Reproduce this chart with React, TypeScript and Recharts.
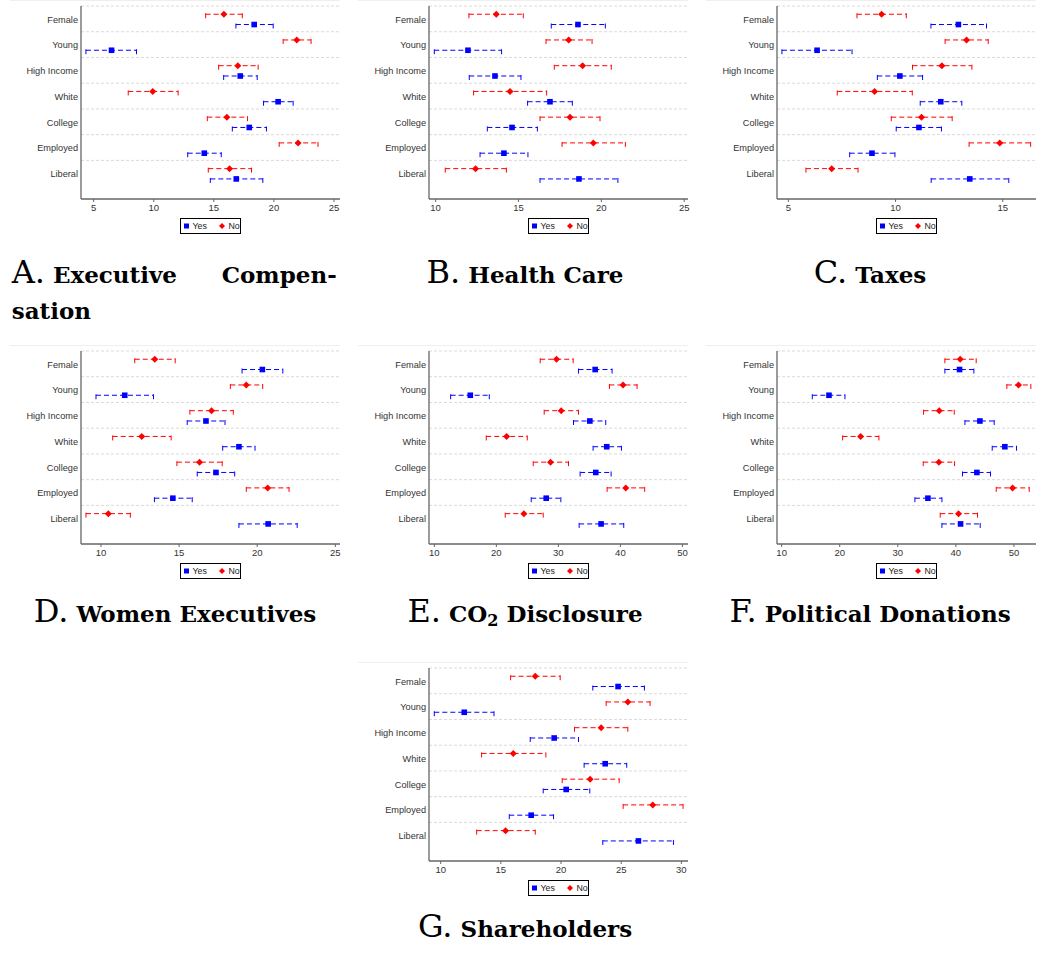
import React from 'react';
import { ScatterChart, Scatter, XAxis, YAxis, ErrorBar, ReferenceLine } from 'recharts';

const groups = ['Female', 'Young', 'High Income', 'White', 'College', 'Employed', 'Liberal'];

// A. Executive Compensation
const execYes = [18.36, 6.49, 17.2, 20.35, 17.95, 14.21, 16.87];
const execYesCI = [[16.84, 19.94], [4.36, 8.57], [15.82, 18.61], [19.14, 21.6], [16.54, 19.38], [12.83, 15.62], [14.71, 19.08]];
const execNo = [15.84, 21.9, 17.0, 9.92, 16.09, 22.01, 16.31];
const execNoCI = [[14.32, 17.37], [20.77, 23.09], [15.4, 18.69], [7.88, 12.03], [14.46, 17.81], [20.44, 23.67], [14.54, 18.14]];
const execTicks = [5, 10, 15, 20, 25];

// B. Health Care
const healthYes = [18.59, 11.95, 13.58, 16.9, 14.61, 14.12, 18.65];
const healthYesCI = [[16.98, 20.24], [9.92, 13.98], [12.03, 15.15], [15.55, 18.25], [13.12, 16.14], [12.68, 15.57], [16.3, 21.0]];
const healthNo = [13.66, 18.03, 18.87, 14.49, 18.11, 19.52, 12.41];
const healthNoCI = [[12.01, 15.29], [16.66, 19.44], [17.16, 20.6], [12.29, 16.7], [16.3, 19.92], [17.63, 21.45], [10.58, 14.27]];
const healthTicks = [10, 15, 20, 25];

// C. Taxes
const taxYes = [12.93, 6.34, 10.2, 12.11, 11.09, 8.9, 13.46];
const taxYesCI = [[11.65, 14.24], [4.7, 7.97], [9.15, 11.26], [11.15, 13.09], [10.03, 12.14], [7.86, 9.97], [11.66, 15.28]];
const taxNo = [9.35, 13.31, 12.16, 9.02, 11.21, 14.86, 7.02];
const taxNoCI = [[8.2, 10.5], [12.31, 14.32], [10.79, 13.56], [7.28, 10.78], [9.8, 12.64], [13.43, 16.3], [5.82, 8.25]];
const taxTicks = [5, 10, 15];

// D. Women Executives
const womenYes = [20.33, 11.52, 16.72, 18.83, 17.36, 14.6, 20.7];
const womenYesCI = [[19.03, 21.64], [9.68, 13.36], [15.52, 17.94], [17.79, 19.86], [16.16, 18.56], [13.42, 15.84], [18.83, 22.56]];
const womenNo = [13.44, 19.3, 17.08, 12.61, 16.31, 20.67, 10.47];
const womenNoCI = [[12.16, 14.75], [18.28, 20.35], [15.69, 18.47], [10.75, 14.49], [14.86, 17.76], [19.3, 22.04], [9.04, 11.88]];
const womenTicks = [10, 15, 20, 25];

// E. CO2 Disclosure
const co2Yes = [35.93, 15.8, 35.07, 37.8, 36.03, 28.04, 36.89];
const co2YesCI = [[33.24, 38.66], [12.63, 18.86], [32.44, 37.64], [35.6, 40.17], [33.51, 38.5], [25.62, 30.4], [33.35, 40.54]];
const co2No = [29.7, 40.43, 30.45, 21.65, 28.73, 40.86, 24.44];
const co2NoCI = [[27.07, 32.38], [38.23, 42.69], [27.71, 33.24], [18.37, 24.98], [25.94, 31.63], [37.86, 43.92], [21.43, 27.55]];
const co2Ticks = [10, 20, 30, 40, 50];

// F. Political Donations
const polYes = [40.64, 18.15, 44.14, 48.44, 43.62, 35.19, 40.81];
const polYesCI = [[38.11, 43.1], [15.28, 20.9], [41.56, 46.6], [46.26, 50.45], [41.15, 45.97], [32.95, 37.6], [37.6, 44.19]];
const polNo = [40.75, 50.79, 37.14, 23.6, 37.08, 49.76, 40.46];
const polNoCI = [[38.11, 43.5], [48.78, 52.91], [34.44, 39.72], [20.5, 26.75], [34.38, 39.78], [46.95, 52.63], [37.31, 43.73]];
const polTicks = [10, 20, 30, 40, 50];

// G. Shareholders
const shareYes = [24.74, 11.96, 19.43, 23.67, 20.43, 17.52, 26.43];
const shareYesCI = [[22.64, 26.93], [9.47, 14.43], [17.44, 21.45], [21.92, 25.46], [18.52, 22.39], [15.7, 19.38], [23.47, 29.34]];
const shareNo = [17.86, 25.55, 23.33, 16.03, 22.42, 27.62, 15.39];
const shareNoCI = [[15.81, 19.93], [23.75, 27.4], [21.12, 25.55], [13.4, 18.74], [20.1, 24.83], [25.16, 30.14], [12.99, 17.86]];
const shareTicks = [10, 15, 20, 25, 30];

const BLUE = '#0000ff';
const RED = '#ff0000';
const AXIS = '#666';
const SANS = "'Liberation Sans', Arial, sans-serif";
const SERIF = "'DejaVu Serif', serif";

// vertical placement inside each category row
const NO_OFF = 0.32;
const YES_OFF = 0.72;
const LABEL_OFF = 0.52;
const labelTicks = groups.map((_, i) => i + LABEL_OFF);

const PLOT_W = 259;
const PLOT_H = 193;
const Y_W = 81;

type Panel = {
  key: string;
  letter: string;
  title: React.ReactNode;
  yes: number[];
  yesCI: number[][];
  no: number[];
  noCI: number[][];
  domain: [number, number];
  ticks: number[];
  left: number;
  top: number;
  col: number;
  baseline: number;
};

const cols = [81, 429, 777];
const colCenters = [175, 525, 870];
const rows = [6, 351, 668];
const baselines = [283, 621.7, 936.7];

const panels: Panel[] = [
  { key: 'A', letter: 'A.', title: 'Executive Compensation', yes: execYes, yesCI: execYesCI, no: execNo, noCI: execNoCI, domain: [3.95, 25.5], ticks: execTicks, left: cols[0], top: rows[0], col: 0, baseline: baselines[0] },
  { key: 'B', letter: 'B.', title: 'Health Care', yes: healthYes, yesCI: healthYesCI, no: healthNo, noCI: healthNoCI, domain: [9.6, 25.23], ticks: healthTicks, left: cols[1], top: rows[0], col: 1, baseline: baselines[0] },
  { key: 'C', letter: 'C.', title: 'Taxes', yes: taxYes, yesCI: taxYesCI, no: taxNo, noCI: taxNoCI, domain: [4.47, 16.55], ticks: taxTicks, left: cols[2], top: rows[0], col: 2, baseline: baselines[0] },
  { key: 'D', letter: 'D.', title: 'Women Executives', yes: womenYes, yesCI: womenYesCI, no: womenNo, noCI: womenNoCI, domain: [8.72, 25.3], ticks: womenTicks, left: cols[0], top: rows[1], col: 0, baseline: baselines[1] },
  { key: 'E', letter: 'E.', title: <>CO<sub style={{ fontSize: '0.7em', verticalAlign: '-0.25em' }}>2</sub> Disclosure</>, yes: co2Yes, yesCI: co2YesCI, no: co2No, noCI: co2NoCI, domain: [9.14, 50.9], ticks: co2Ticks, left: cols[1], top: rows[1], col: 1, baseline: baselines[1] },
  { key: 'F', letter: 'F.', title: 'Political Donations', yes: polYes, yesCI: polYesCI, no: polNo, noCI: polNoCI, domain: [9.2, 53.8], ticks: polTicks, left: cols[2], top: rows[1], col: 2, baseline: baselines[1] },
  { key: 'G', letter: 'G.', title: 'Shareholders', yes: shareYes, yesCI: shareYesCI, no: shareNo, noCI: shareNoCI, domain: [9.03, 30.55], ticks: shareTicks, left: cols[1], top: rows[2], col: 1, baseline: baselines[2] },
];

function series(means: number[], ci: number[][], offset: number) {
  return means.map((m, i) => ({
    group: groups[i],
    x: m,
    y: i + offset,
    err: [m - ci[i][0], ci[i][1] - m],
  }));
}

const Square = (p: any) => (
  <rect x={p.cx - 2.8} y={p.cy - 2.8} width={5.6} height={5.6} fill={BLUE} />
);

const Diamond = (p: any) => {
  const r = 3.5;
  return (
    <polygon
      points={`${p.cx},${p.cy - r} ${p.cx + r},${p.cy} ${p.cx},${p.cy + r} ${p.cx - r},${p.cy}`}
      fill={RED}
    />
  );
};

// plain text tick so long names are never wrapped
const GroupTick = (props: any) => {
  const { x, y, payload } = props;
  const name = groups[Math.round(payload.value - LABEL_OFF)] ?? '';
  return (
    <text x={x} y={y} dy="0.355em" textAnchor="end" fontSize={9.2} fontFamily={SANS} fill="#333">
      {name}
    </text>
  );
};

function PanelChart({ p }: { p: Panel }) {
  const yesData = series(p.yes, p.yesCI, YES_OFF);
  const noData = series(p.no, p.noCI, NO_OFF);
  return (
    <div style={{ position: 'absolute', left: p.left - Y_W, top: p.top - 6 }}>
      <ScatterChart width={Y_W + PLOT_W + 10} height={6 + PLOT_H + 25} margin={{ top: 6, right: 10, bottom: 5, left: 0 }}>
        {groups.map((_, i) => (
          <ReferenceLine key={i} y={i} stroke="#dadada" strokeDasharray="3 2" />
        ))}
        <XAxis
          type="number"
          dataKey="x"
          domain={p.domain}
          ticks={p.ticks}
          allowDataOverflow
          interval={0}
          height={20}
          tickSize={3}
          tickMargin={2}
          axisLine={{ stroke: AXIS, strokeWidth: 1.3 }}
          tickLine={{ stroke: AXIS }}
          tick={{ fontSize: 9.5, fill: '#333', fontFamily: SANS }}
        />
        <YAxis
          type="number"
          dataKey="y"
          domain={[0, 7.5]}
          reversed
          allowDataOverflow
          ticks={labelTicks}
          interval={0}
          width={Y_W}
          tickSize={0}
          tickMargin={3}
          tickLine={false}
          axisLine={{ stroke: AXIS, strokeWidth: 1.3 }}
          tick={<GroupTick />}
        />
        <Scatter name="No" data={noData} shape={Diamond} isAnimationActive={false}>
          <ErrorBar dataKey="err" direction="x" width={4} stroke={RED} strokeWidth={1} strokeDasharray="5 3" isAnimationActive={false} />
        </Scatter>
        <Scatter name="Yes" data={yesData} shape={Square} isAnimationActive={false}>
          <ErrorBar dataKey="err" direction="x" width={4} stroke={BLUE} strokeWidth={1} strokeDasharray="5 3" isAnimationActive={false} />
        </Scatter>
      </ScatterChart>
    </div>
  );
}

function LegendBox({ p }: { p: Panel }) {
  const cx = p.left + PLOT_W / 2;
  return (
    <div
      style={{
        position: 'absolute',
        left: cx - 30.5,
        top: p.top + PLOT_H + 19,
        width: 61,
        height: 16,
        boxSizing: 'border-box',
        border: '1px solid #000',
      }}
    >
      <svg width={59} height={14} style={{ position: 'absolute', left: 0, top: 0 }}>
        <rect x={3} y={4.5} width={5} height={5} fill={BLUE} />
        <text x={11.5} y={10.2} fontSize={8.8} fontFamily={SANS} fill="#222">Yes</text>
        <polygon points="41,4 44,7 41,10 38,7" fill={RED} />
        <text x={47.5} y={10.2} fontSize={8.8} fontFamily={SANS} fill="#222">No</text>
      </svg>
    </div>
  );
}

function Title({ p }: { p: Panel }) {
  const letterStyle: React.CSSProperties = { fontSize: 32, fontWeight: 'normal' };
  if (p.key === 'A') {
    return (
      <div
        style={{
          position: 'absolute',
          left: 11.7,
          top: p.baseline - 27,
          width: 325,
          fontFamily: SERIF,
          fontWeight: 'bold',
          lineHeight: '33px',
          color: '#000',
        }}
      >
        <div style={{ display: 'flex', justifyContent: 'space-between', alignItems: 'baseline' }}>
          <span>
            <span style={letterStyle}>{p.letter}</span>
            <span style={{ fontSize: 23 }}> Executive</span>
          </span>
          <span style={{ fontSize: 23 }}>Compen-</span>
        </div>
        <div style={{ fontSize: 23 }}>sation</div>
      </div>
    );
  }
  const center = colCenters[p.col];
  return (
    <div
      style={{
        position: 'absolute',
        left: center - 175,
        top: p.baseline - 27,
        width: 350,
        textAlign: 'center',
        whiteSpace: 'nowrap',
        fontFamily: SERIF,
        fontWeight: 'bold',
        lineHeight: '32px',
        color: '#000',
      }}
    >
      <span style={letterStyle}>{p.letter}</span>
      <span style={{ fontSize: 23 }}> {p.title}</span>
    </div>
  );
}

export default function App() {
  return (
    <div style={{ position: 'absolute', left: 0, top: 0, width: 1045, height: 957, background: '#fff', overflow: 'hidden' }}>
      {panels.map((p) => (
        <React.Fragment key={p.key}>
          <div style={{ position: 'absolute', left: p.left - 71, top: p.top - 6, width: 330, height: 1, background: '#efefef' }} />
          <PanelChart p={p} />
          <LegendBox p={p} />
          <Title p={p} />
        </React.Fragment>
      ))}
    </div>
  );
}
